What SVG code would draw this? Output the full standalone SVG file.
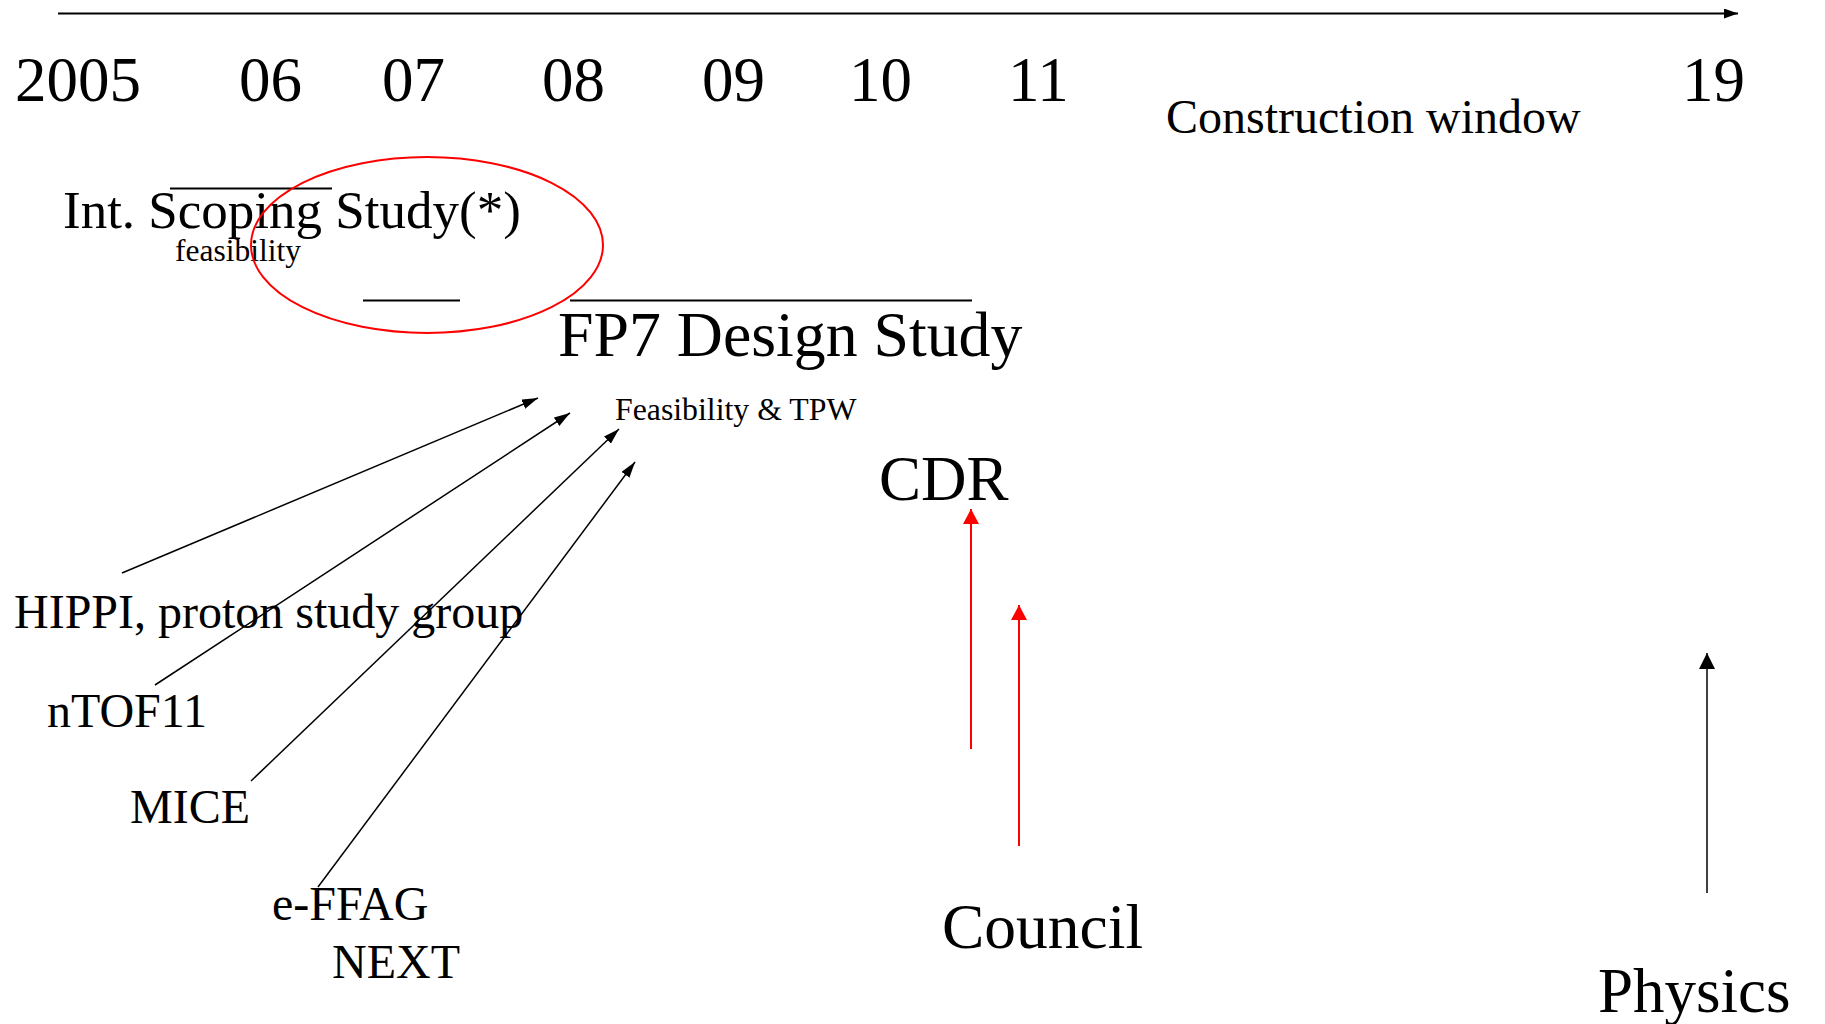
<svg xmlns="http://www.w3.org/2000/svg" width="1825" height="1024" viewBox="0 0 1825 1024">
<defs>
<style>
text{font-family:"Liberation Serif","Times New Roman",serif;fill:#000}
.yr{font-size:63px}
.big{font-size:63px}
.mid{font-size:48px}
.sm{font-size:31.8px}
.blk{stroke:#000;stroke-width:1.5;fill:none}
.red{stroke:#ff0000;stroke-width:2;fill:none}
</style>
<marker id="ab" markerUnits="userSpaceOnUse" markerWidth="16" markerHeight="10" refX="16" refY="5" orient="auto"><path d="M0,0 L16,5 L0,10 z" fill="#000"/></marker>
<marker id="at" markerUnits="userSpaceOnUse" markerWidth="14" markerHeight="10" refX="14" refY="5" orient="auto"><path d="M0,0 L14,5 L0,10 z" fill="#000"/></marker>
<marker id="ar" markerUnits="userSpaceOnUse" markerWidth="15" markerHeight="16" refX="15" refY="8" orient="auto"><path d="M0,0 L15,8 L0,16 z" fill="#ff0000"/></marker>
<marker id="ap" markerUnits="userSpaceOnUse" markerWidth="16" markerHeight="16" refX="16" refY="8" orient="auto"><path d="M0,0 L16,8 L0,16 z" fill="#000"/></marker>
</defs>
<rect width="1825" height="1024" fill="#fff"/>

<g id="timeline">
<line x1="58" y1="13.5" x2="1738" y2="13.5" stroke="#000" stroke-width="2" marker-end="url(#at)"/>
<text class="yr" x="15" y="101">2005</text>
<text class="yr" x="239" y="101">06</text>
<text class="yr" x="382" y="101">07</text>
<text class="yr" x="542" y="101">08</text>
<text class="yr" x="702" y="101">09</text>
<text class="yr" x="849" y="101">10</text>
<text class="yr" x="1008" y="101">11</text>
<text class="yr" x="1682" y="101">19</text>
<text class="mid" x="1166" y="133">Construction window</text>
</g>

<g id="scoping">
<line x1="170" y1="188.5" x2="332" y2="188.5" stroke="#000" stroke-width="2"/>
<text style="font-size:53px" x="63" y="228">Int. Scoping Study(*)</text>
<text style="font-size:31.5px" x="175" y="261">feasibility</text>
<line x1="363" y1="300.5" x2="460" y2="300.5" stroke="#000" stroke-width="2"/>
<ellipse cx="427" cy="245" rx="176" ry="88" fill="none" stroke="#ff0000" stroke-width="2"/>
</g>

<g id="fp7">
<line x1="570" y1="300.5" x2="972" y2="300.5" stroke="#000" stroke-width="2"/>
<text style="font-size:63.8px" x="558" y="356">FP7 Design Study</text>
<text class="sm" x="615" y="420">Feasibility &amp; TPW</text>
</g>

<g id="cdr"><text class="big" x="879" y="500">CDR</text></g>
<g id="hippi"><text class="mid" x="14" y="628">HIPPI, proton study group</text></g>
<g id="ntof"><text class="mid" x="47" y="727">nTOF11</text></g>
<g id="mice"><text class="mid" x="130" y="823">MICE</text></g>
<g id="effag"><text class="mid" x="272" y="920">e-FFAG</text></g>
<g id="next"><text class="mid" x="332" y="978">NEXT</text></g>
<g id="council"><text style="font-size:63.5px" x="942" y="948">Council</text></g>
<g id="physics"><text class="big" x="1598" y="1012">Physics</text></g>

<g id="connectors">
<line class="blk" x1="122" y1="573" x2="538" y2="398" marker-end="url(#ab)"/>
<line class="blk" x1="155" y1="685" x2="570" y2="413" marker-end="url(#ab)"/>
<line class="blk" x1="251" y1="781" x2="619" y2="429" marker-end="url(#ab)"/>
<line class="blk" x1="318" y1="887" x2="635" y2="462" marker-end="url(#ab)"/>
<line class="red" x1="971" y1="749" x2="971" y2="509" marker-end="url(#ar)"/>
<line class="red" x1="1019" y1="846" x2="1019" y2="605" marker-end="url(#ar)"/>
<line class="blk" x1="1707" y1="893" x2="1707" y2="653" stroke-width="2" marker-end="url(#ap)"/>
</g>
</svg>
